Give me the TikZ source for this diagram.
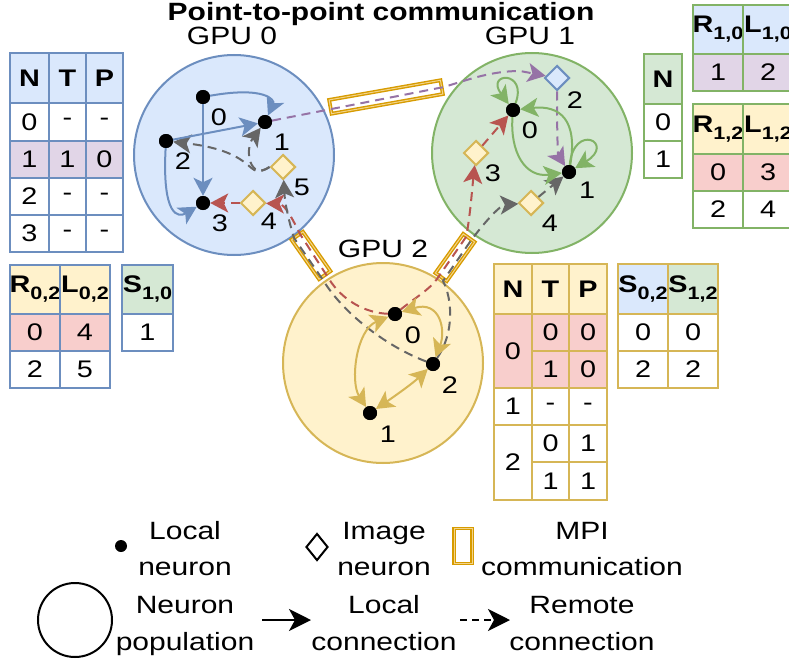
\documentclass[tikz,border=0pt]{standalone}
\usepackage{fontspec}
\setmainfont{Liberation Sans}[FakeStretch=1.2]
\usetikzlibrary{shapes.geometric,arrows.meta}

\definecolor{blueD}{HTML}{6C8EBF}
\definecolor{blueF}{HTML}{DAE8FC}
\definecolor{greenD}{HTML}{82B366}
\definecolor{greenF}{HTML}{D5E8D4}
\definecolor{yellD}{HTML}{D6B656}
\definecolor{yellF}{HTML}{FFF2CC}
\definecolor{redD}{HTML}{B85450}
\definecolor{redF}{HTML}{F8CECC}
\definecolor{purD}{HTML}{9673A6}
\definecolor{purF}{HTML}{E1D5E7}
\definecolor{grayD}{HTML}{666666}
\definecolor{mpiC}{HTML}{D79B00}
\definecolor{mpiL}{HTML}{F3D48A}

% one table cell: name, x1, y1, x2, y2, border, fill, text
\newcommand\tcell[8]{\node[tcell,draw=#6,fill=#7,minimum width={#4-#2},minimum height={#5-#3}] (#1) at ({(#2+#4)/2},{(#3+#5)/2}) {#8};}
% bold header with a lowered index
\newcommand\idxsub[2]{\textbf{#1\raisebox{-7pt}{\fontsize{18}{18}\selectfont #2}}}

\tikzset{
  every node/.style={inner sep=0pt},
  txt/.style={font=\fontsize{25}{30}\selectfont},
  num/.style={font=\fontsize{24}{29}\selectfont},
  dotn/.style={circle,fill=black,minimum size=14pt},
  imgn/.style={diamond,line width=2pt,minimum size=25pt},
  gpu/.style={circle,line width=2pt,minimum size=200pt},
  tcell/.style={rectangle,line width=2pt,font=\fontsize{24}{29}\selectfont},
  mpibar/.style={rectangle,draw=mpiC,line width=1.4pt,double=mpiL,double distance=1pt,fill=white},
  bigtip/.tip={Stealth[length=18pt,width=19pt,inset=4.5pt]},
  headtip/.style={-bigtip},
  loc/.style={line width=2pt,headtip},
  rem/.style={line width=2pt,headtip,dash pattern=on 9pt off 6pt},
  twoway/.style={line width=2pt,bigtip-bigtip},
  legtip/.style={-{Stealth[length=22pt,width=22pt,inset=6pt]}},
}

\begin{document}
\begin{tikzpicture}[x=1pt,y=-1pt]
\useasboundingbox (0,0) rectangle (789,666);

% title and population labels
\node[txt,font=\fontsize{25}{30}\selectfont\bfseries,anchor=base] (title) at (381,21) {Point-to-point communication};
\node[txt,anchor=base] (lg0) at (232,45) {GPU 0};
\node[txt,anchor=base] (lg1) at (530,45) {GPU 1};
\node[txt,anchor=base] (lg2) at (383,257) {GPU 2};

% neuron populations
\node[gpu,fill=blueF,draw=blueD] (g0) at (234,155) {};
\node[gpu,fill=greenF,draw=greenD] (g1) at (532,153) {};
\node[gpu,fill=yellF,draw=yellD] (g2) at (383,363) {};

% MPI links between populations
\node[mpibar,minimum width=113pt,minimum height=14pt,rotate=10] (barA) at (386,97) {};
\node[mpibar,minimum width=48pt,minimum height=14pt,rotate=-55] (barB) at (311,255.5) {};
\node[mpibar,minimum width=48pt,minimum height=14pt,rotate=54.5] (barC) at (455,257.5) {};

% GPU 0 neurons
\node[dotn] (a0) at (203,97) {};
\node[dotn] (a1) at (265,122) {};
\node[dotn] (a2) at (166,141) {};
\node[dotn] (a3) at (203,203) {};
\node[imgn,fill=yellF,draw=yellD] (a4) at (253,203) {};
\node[imgn,fill=yellF,draw=yellD] (a5) at (283,167) {};
\node[num] (la0) at (219,117) {0};
\node[num] (la1) at (282,142) {1};
\node[num] (la2) at (183,161) {2};
\node[num] (la3) at (220,223) {3};
\node[num] (la4) at (269,221) {4};
\node[num] (la5) at (302,187) {5};

% GPU 1 neurons
\node[dotn] (b0) at (513,110) {};
\node[dotn] (b1) at (569,172) {};
\node[imgn,fill=blueF,draw=blueD] (b2) at (557,78) {};
\node[imgn,fill=yellF,draw=yellD] (b3) at (476,153) {};
\node[imgn,fill=yellF,draw=yellD] (b4) at (531,203) {};
\node[num] (lb0) at (530,130) {0};
\node[num] (lb1) at (587,190) {1};
\node[num] (lb2) at (575,100) {2};
\node[num] (lb3) at (493,173) {3};
\node[num] (lb4) at (550,223) {4};

% GPU 2 neurons
\node[dotn] (c0) at (395,314) {};
\node[dotn] (c1) at (370,413) {};
\node[dotn] (c2) at (433,364) {};
\node[num] (lc0) at (413,335) {0};
\node[num] (lc1) at (388,434) {1};
\node[num] (lc2) at (450,385) {2};

% remote connections through the MPI links
\draw[rem,purD] (a1) -- (444,87) .. controls (470,79) and (492,71) .. (520,71) -- (b2);
\draw[rem,redD] (c0) .. controls (365,313) and (342,300) .. (329,279) -- (300,234) .. controls (293,220) and (285,204) .. (a4);
\draw[rem,grayD] (c2) .. controls (390,348) and (345,316) .. (323,280) -- (294,238) .. controls (290,225) and (285,205) .. (a5);
\draw[rem,redD] (c0) .. controls (415,298) and (430,289) .. (437,279) -- (466,237) .. controls (470,218) and (472,190) .. (b3);
\draw[rem,grayD] (c2) .. controls (455,332) and (452,298) .. (443,281) -- (472,239) .. controls (485,222) and (500,205) .. (b4);

% image neurons to local targets
\draw[rem,redD] (a4) -- (a3);
\draw[rem,grayD] (a5.west) .. controls (250,181) and (244,150) .. (a1);
\draw[rem,grayD] (a5.west) .. controls (244,182) and (262,152) .. (a2);
\draw[rem,purD] (b2) .. controls (557,140) and (558,155) .. (b1);
\draw[rem,redD] (b3) -- (b0);
\draw[rem,grayD] (b4) -- (b1);

% local connections
\draw[loc,blueD] (a0) .. controls (265,86) and (275,100) .. (a1);
\draw[loc,blueD] (a0) -- (a3);
\draw[loc,blueD] (a2) -- (a1);
\draw[loc,blueD] (a2) .. controls (162,216) and (178,218) .. (a3);
\draw[loc,greenD] (b0) .. controls (528,70) and (485,72) .. (b0);
\draw[loc,greenD] (b1) .. controls (574,122) and (616,143) .. (b1);
\draw[loc,greenD] (b0) .. controls (510,152) and (525,178) .. (b1);
\draw[loc,greenD] (b1) .. controls (578,120) and (560,105) .. (b0);
\draw[twoway,yellD] (c0) .. controls (440,300) and (446,330) .. (c2);
\draw[twoway,yellD] (c0) .. controls (356,330) and (350,382) .. (c1);
\draw[twoway,yellD] (c1) .. controls (392,398) and (412,384) .. (c2);

% redraw dots above the connectors
\foreach \n in {a0,a1,a2,a3,b0,b1,c0,c1,c2} \fill (\n) circle (7pt);

% GPU 0 tables
\tcell{tAhN}{10}{53}{49}{103}{blueD}{blueF}{\textbf{N}}
\tcell{tAhT}{49}{53}{86}{103}{blueD}{blueF}{\textbf{T}}
\tcell{tAhP}{86}{53}{123}{103}{blueD}{blueF}{\textbf{P}}
\tcell{tA0n}{10}{103}{49}{141}{blueD}{white}{0}
\tcell{tA0t}{49}{103}{86}{141}{blueD}{white}{-}
\tcell{tA0p}{86}{103}{123}{141}{blueD}{white}{-}
\tcell{tA1n}{10}{141}{49}{178}{blueD}{purF}{1}
\tcell{tA1t}{49}{141}{86}{178}{blueD}{purF}{1}
\tcell{tA1p}{86}{141}{123}{178}{blueD}{purF}{0}
\tcell{tA2n}{10}{178}{49}{215}{blueD}{white}{2}
\tcell{tA2t}{49}{178}{86}{215}{blueD}{white}{-}
\tcell{tA2p}{86}{178}{123}{215}{blueD}{white}{-}
\tcell{tA3n}{10}{215}{49}{252}{blueD}{white}{3}
\tcell{tA3t}{49}{215}{86}{252}{blueD}{white}{-}
\tcell{tA3p}{86}{215}{123}{252}{blueD}{white}{-}

\tcell{tBhR}{10}{265}{60}{314}{blueD}{yellF}{\idxsub{R}{0,2}}
\tcell{tBhL}{60}{265}{110}{314}{blueD}{yellF}{\idxsub{L}{0,2}}
\tcell{tB0r}{10}{314}{60}{351}{blueD}{redF}{0}
\tcell{tB0l}{60}{314}{110}{351}{blueD}{redF}{4}
\tcell{tB1r}{10}{351}{60}{388}{blueD}{white}{2}
\tcell{tB1l}{60}{351}{110}{388}{blueD}{white}{5}

\tcell{tChS}{122}{265}{173}{314}{blueD}{greenF}{\idxsub{S}{1,0}}
\tcell{tC0s}{122}{314}{173}{351}{blueD}{white}{1}

% GPU 1 tables
\tcell{tDhN}{644}{54}{682}{104}{greenD}{greenF}{\textbf{N}}
\tcell{tD0n}{644}{104}{682}{141}{greenD}{white}{0}
\tcell{tD1n}{644}{141}{682}{178}{greenD}{white}{1}

\tcell{tEhR}{693}{5}{743}{54}{greenD}{blueF}{\idxsub{R}{1,0}}
\tcell{tEhL}{743}{5}{793}{54}{greenD}{blueF}{\idxsub{L}{1,0}}
\tcell{tE0r}{693}{54}{743}{91}{greenD}{purF}{1}
\tcell{tE0l}{743}{54}{793}{91}{greenD}{purF}{2}

\tcell{tFhR}{693}{104}{743}{154}{greenD}{yellF}{\idxsub{R}{1,2}}
\tcell{tFhL}{743}{104}{793}{154}{greenD}{yellF}{\idxsub{L}{1,2}}
\tcell{tF0r}{693}{154}{743}{191}{greenD}{redF}{0}
\tcell{tF0l}{743}{154}{793}{191}{greenD}{redF}{3}
\tcell{tF1r}{693}{191}{743}{228}{greenD}{white}{2}
\tcell{tF1l}{743}{191}{793}{228}{greenD}{white}{4}

% GPU 2 tables
\tcell{tGhN}{494}{264}{532}{314}{yellD}{yellF}{\textbf{N}}
\tcell{tGhT}{532}{264}{569}{314}{yellD}{yellF}{\textbf{T}}
\tcell{tGhP}{569}{264}{607}{314}{yellD}{yellF}{\textbf{P}}
\tcell{tG0n}{494}{314}{532}{388}{yellD}{redF}{0}
\tcell{tG0t}{532}{314}{569}{351}{yellD}{redF}{0}
\tcell{tG0p}{569}{314}{607}{351}{yellD}{redF}{0}
\tcell{tG1t}{532}{351}{569}{388}{yellD}{redF}{1}
\tcell{tG1p}{569}{351}{607}{388}{yellD}{redF}{0}
\tcell{tG2n}{494}{388}{532}{425}{yellD}{white}{1}
\tcell{tG2t}{532}{388}{569}{425}{yellD}{white}{-}
\tcell{tG2p}{569}{388}{607}{425}{yellD}{white}{-}
\tcell{tG3n}{494}{425}{532}{500}{yellD}{white}{2}
\tcell{tG3t}{532}{425}{569}{462}{yellD}{white}{0}
\tcell{tG3p}{569}{425}{607}{462}{yellD}{white}{1}
\tcell{tG4t}{532}{462}{569}{500}{yellD}{white}{1}
\tcell{tG4p}{569}{462}{607}{500}{yellD}{white}{1}

\tcell{tHhA}{618}{264}{668}{314}{yellD}{blueF}{\idxsub{S}{0,2}}
\tcell{tHhB}{668}{264}{718}{314}{yellD}{greenF}{\idxsub{S}{1,2}}
\tcell{tH0a}{618}{314}{668}{351}{yellD}{white}{0}
\tcell{tH0b}{668}{314}{718}{351}{yellD}{white}{0}
\tcell{tH1a}{618}{351}{668}{388}{yellD}{white}{2}
\tcell{tH1b}{668}{351}{718}{388}{yellD}{white}{2}

% legend
\node[dotn,minimum size=12pt] (kdot) at (121,546) {};
\node[txt,anchor=base] (kdot1) at (185,539) {Local};
\node[txt,anchor=base] (kdot2) at (185,575) {neuron};
\node[diamond,draw,line width=2pt,fill=white,minimum width=22pt,minimum height=27pt] (kdia) at (317,547) {};
\node[txt,anchor=base] (kdia1) at (384,539) {Image};
\node[txt,anchor=base] (kdia2) at (384,575) {neuron};
\node[mpibar,minimum width=18pt,minimum height=35pt] (kbar) at (463,546) {};
\node[txt,anchor=base] (kbar1) at (582,539) {MPI};
\node[txt,anchor=base] (kbar2) at (582,575) {communication};
\node[circle,draw,line width=2pt,minimum size=74pt] (kpop) at (75,620) {};
\node[txt,anchor=base] (kpop1) at (185,613) {Neuron};
\node[txt,anchor=base] (kpop2) at (185,650) {population};
\coordinate (kl1) at (262,620);
\coordinate (kl2) at (311,620);
\draw[line width=2pt,legtip] (kl1) -- (kl2);
\node[txt,anchor=base] (kloc1) at (384,613) {Local};
\node[txt,anchor=base] (kloc2) at (384,650) {connection};
\coordinate (kr1) at (460,620);
\coordinate (kr2) at (510,620);
\draw[line width=2pt,dash pattern=on 7pt off 5pt,legtip] (kr1) -- (kr2);
\node[txt,anchor=base] (krem1) at (582,613) {Remote};
\node[txt,anchor=base] (krem2) at (582,650) {connection};
\end{tikzpicture}
\end{document}
